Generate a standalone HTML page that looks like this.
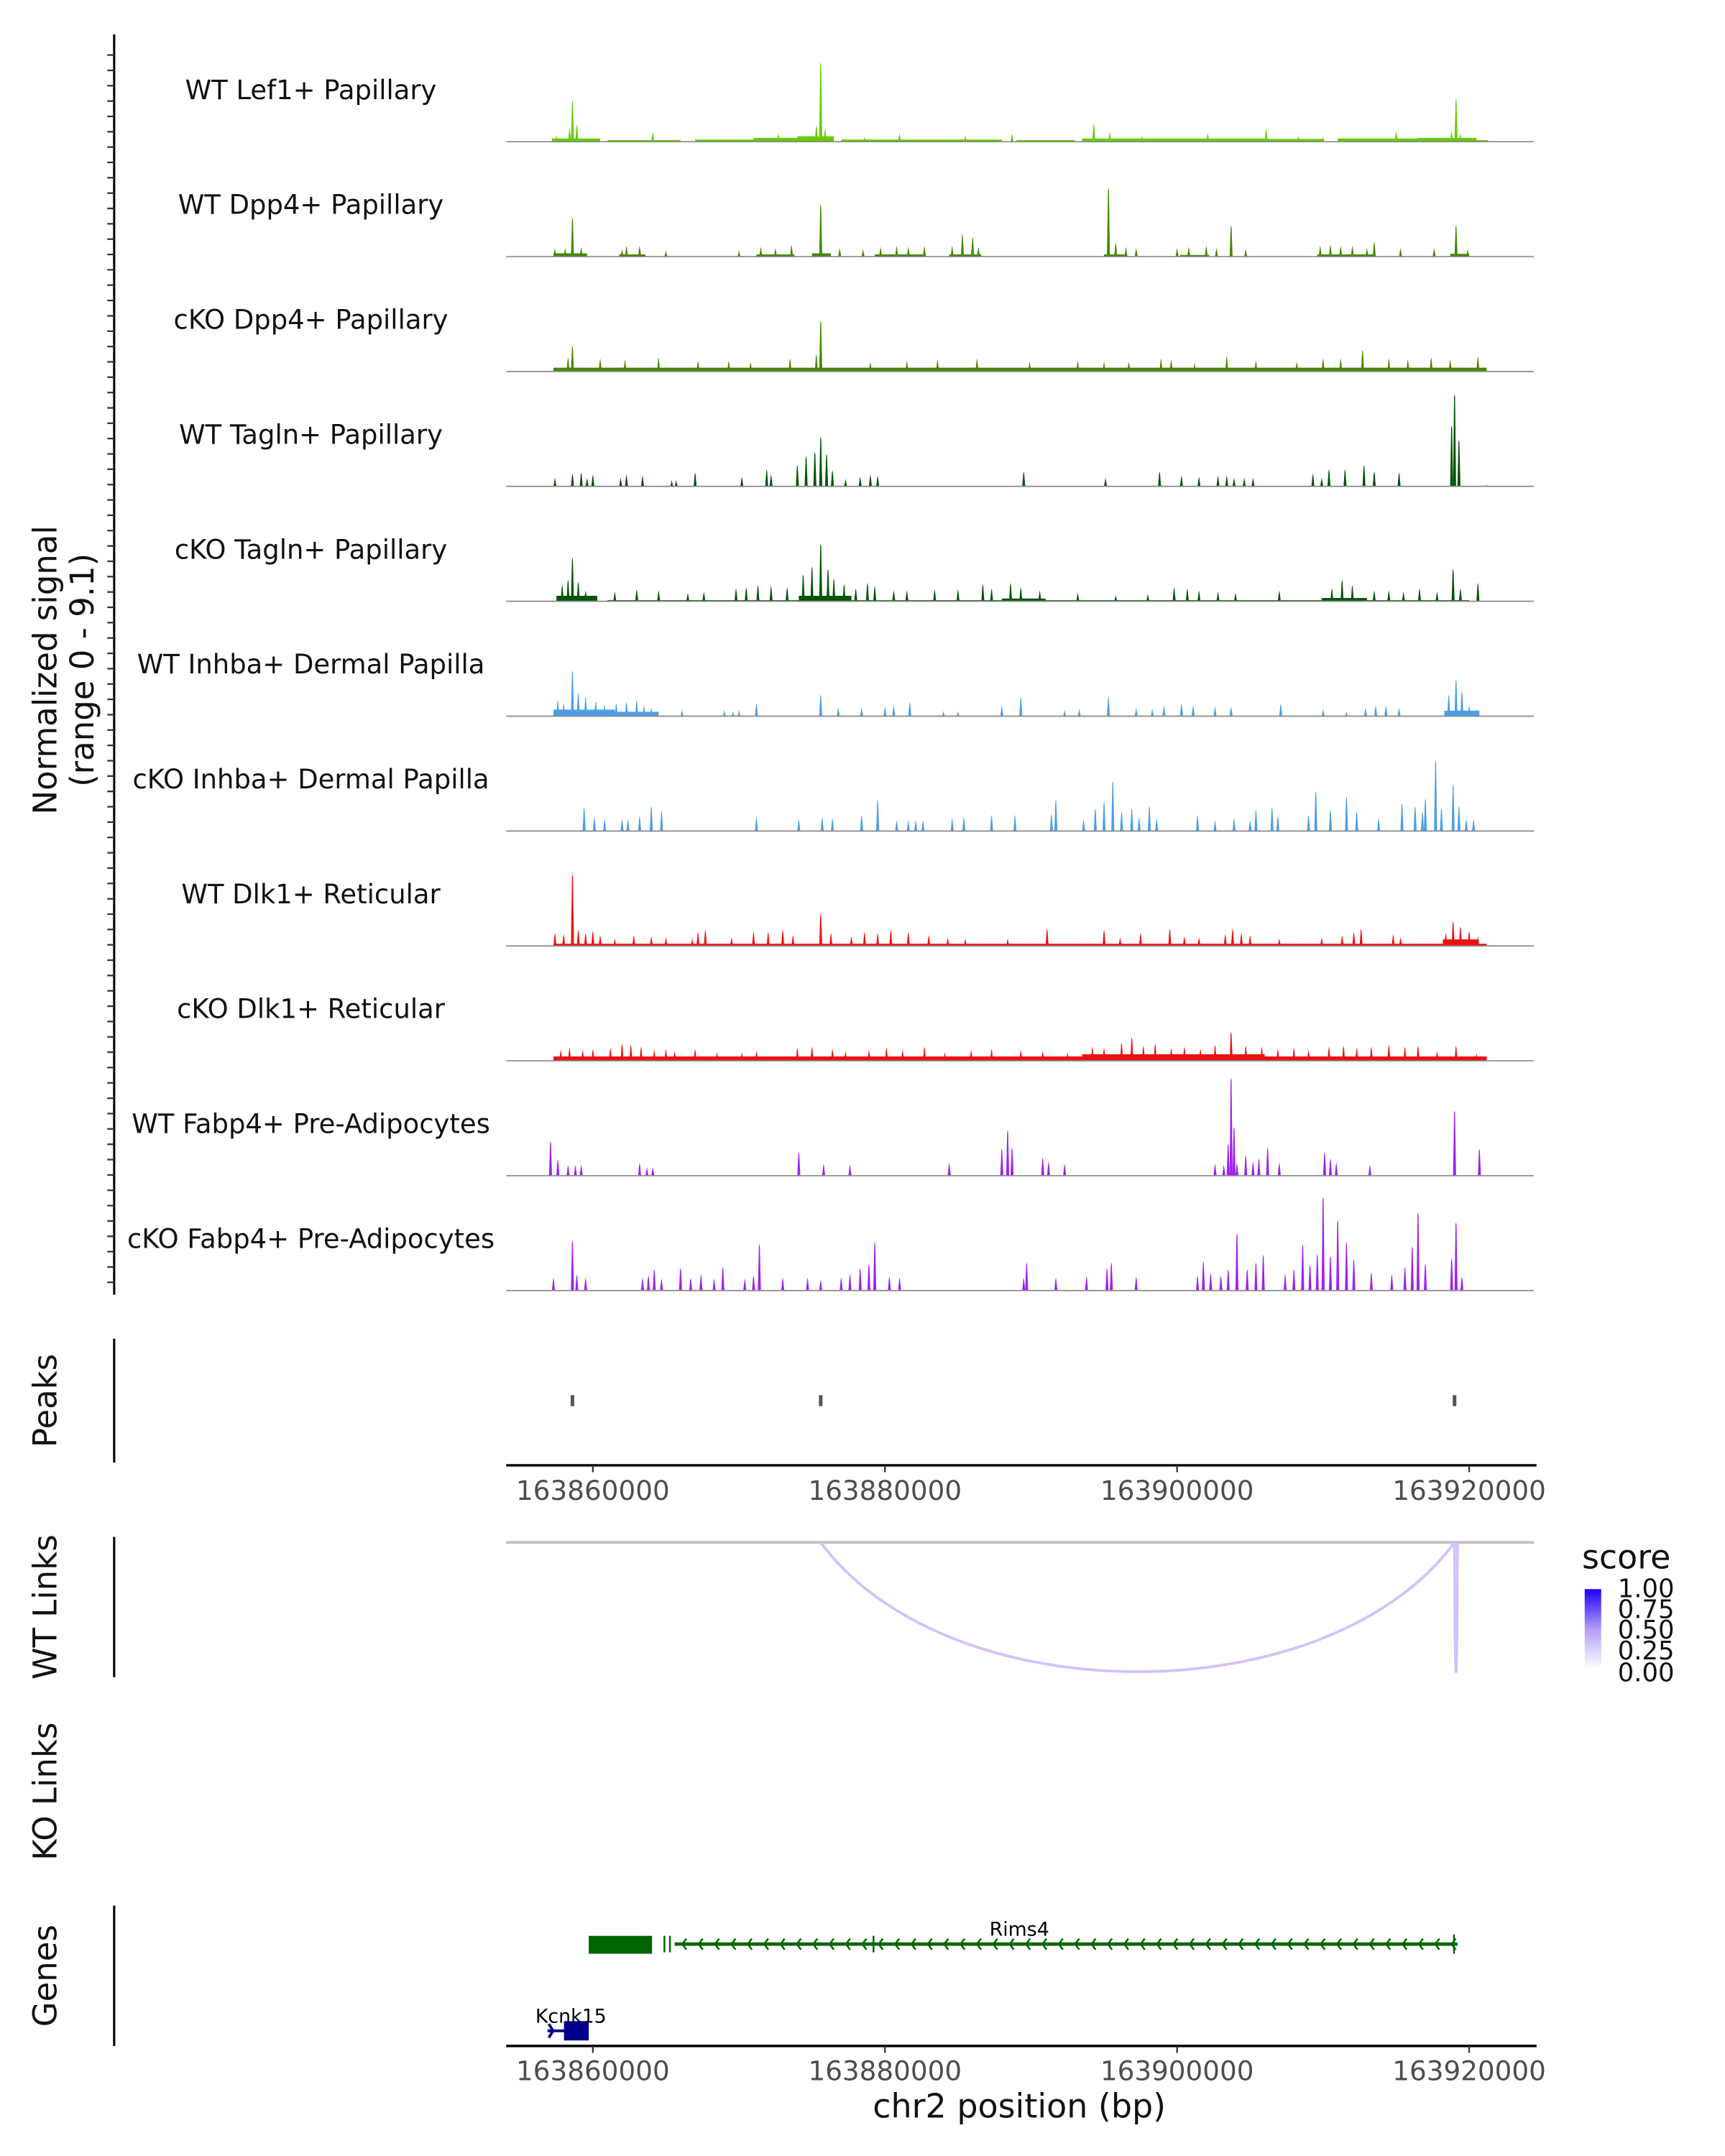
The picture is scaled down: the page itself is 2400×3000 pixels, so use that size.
<!DOCTYPE html>
<html><head><meta charset="utf-8"><style>
html,body{margin:0;padding:0;background:#fff;}
svg{display:block;font-family:"DejaVu Sans","Liberation Sans",sans-serif;}
</style></head><body>
<svg id="chart" width="2400" height="3000" viewBox="0 0 1254 1567" preserveAspectRatio="none" xmlns="http://www.w3.org/2000/svg">
<rect width="1254" height="1567" fill="#fff"/>
<g id="tracks"></g>
<line x1="83" y1="25" x2="83" y2="941" stroke="#000" stroke-width="1.6"/>
<g id="yticks"></g>
<text transform="translate(41,487) rotate(-90)" text-anchor="middle" font-size="23.5" fill="#111">Normalized signal</text>
<text transform="translate(68,487) rotate(-90)" text-anchor="middle" font-size="23.5" fill="#111">(range 0 - 9.1)</text>

<line x1="83" y1="973" x2="83" y2="1063" stroke="#000" stroke-width="1.6"/>
<text transform="translate(41,1018) rotate(-90)" text-anchor="middle" font-size="23.5" fill="#111">Peaks</text>
<g id="peaks"></g>
<g id="xaxis1"></g>

<line x1="83" y1="1117" x2="83" y2="1219" stroke="#000" stroke-width="1.6"/>
<text transform="translate(41,1168) rotate(-90)" text-anchor="middle" font-size="23.5" fill="#111">WT Links</text>
<g id="links"></g>
<text transform="translate(41,1302) rotate(-90)" text-anchor="middle" font-size="23.5" fill="#111">KO Links</text>

<g>
<defs><linearGradient id="sg" x1="0" y1="1" x2="0" y2="0"><stop offset="0" stop-color="#ffffff"/><stop offset="0.5" stop-color="#b49cf5"/><stop offset="1" stop-color="#1a00ff"/></linearGradient></defs>
<text x="1150" y="1140" font-size="24" fill="#111">score</text>
<rect x="1152" y="1155" width="12" height="58" fill="url(#sg)"/>
<g font-size="18.5" fill="#111">
<text x="1176" y="1161">1.00</text>
<text x="1176" y="1176">0.75</text>
<text x="1176" y="1191">0.50</text>
<text x="1176" y="1206">0.25</text>
<text x="1176" y="1222">0.00</text>
</g></g>

<line x1="83" y1="1385" x2="83" y2="1487" stroke="#000" stroke-width="1.6"/>
<text transform="translate(41,1436) rotate(-90)" text-anchor="middle" font-size="23.5" fill="#111">Genes</text>
<g id="genes"></g>
<g id="xaxis2"></g>
<text x="741" y="1539" text-anchor="middle" font-size="24" fill="#111">chr2 position (bp)</text>
</svg>
<script>
// positions in kb offset from 163850000
const trackNames = ["WT Lef1+ Papillary","WT Dpp4+ Papillary","cKO Dpp4+ Papillary","WT Tagln+ Papillary","cKO Tagln+ Papillary","WT Inhba+ Dermal Papilla","cKO Inhba+ Dermal Papilla","WT Dlk1+ Reticular","cKO Dlk1+ Reticular","WT Fabp4+ Pre-Adipocytes","cKO Fabp4+ Pre-Adipocytes"];
const trackColors = ["#66cc00","#448800","#448800","#005500","#005500","#4a9fe8","#4a9fe8","#ee1111","#ee1111","#a020f0","#a020f0"];
const xTicks = [163860000,163880000,163900000,163920000];
const peakRegions = [8.6,25.6,69.0];
const lefBand = [[7.2,10.5,0.3],[11,16,0.15],[17,21,0.2],[21,24,0.35],[24,26.5,0.5],[27,38,0.2],[39,43,0.15],[43.5,56,0.3],[56,60,0.25],[61,66.5,0.3],[66.5,70.5,0.35],[70.5,71.3,0.15]];
const lefPeaks = [[8.6,3.8],[8.4,1.2],[8.9,1.6],[7.5,0.6],[25.6,7.3],[25.3,1.5],[25.9,1.2],[69.1,4.0],[68.8,1.0],[69.4,0.8],[14.1,0.9],[22.7,0.8],[31.0,0.8],[38.7,0.8],[44.3,1.7],[45.4,0.9],[47.6,0.6],[52.1,0.8],[56.1,1.2],[58.3,0.6],[65.0,1.0],[60.0,0.5],[35.5,0.6],[28.6,0.5]];
const wtDppBand = [[7.3,9.6,0.3],[11.8,13.6,0.2],[21.2,23.8,0.2],[25.0,26.3,0.3],[29.3,32.8,0.2],[34.4,36.6,0.2],[45,46.4,0.2],[50.2,52.2,0.15],[59.6,63.6,0.2],[68.7,70,0.25]];
const wtDppPeaks = [[8.6,3.6],[7.4,0.8],[8.1,0.8],[9.2,0.9],[12.0,0.7],[12.3,1.0],[13.2,1.0],[15.0,0.6],[20.0,0.6],[21.5,0.9],[22.5,0.8],[23.6,1.1],[25.6,4.8],[26.9,0.8],[28.5,0.7],[29.7,0.9],[30.8,1.0],[31.6,0.9],[32.7,1.0],[34.6,1.0],[35.3,2.1],[36.0,1.8],[36.4,0.9],[45.3,6.3],[45.8,1.3],[46.5,0.9],[47.2,0.8],[50.0,0.8],[50.8,0.9],[52.0,1.0],[53.7,2.9],[52.7,0.8],[54.7,0.7],[59.8,1.0],[60.5,1.1],[61.2,1.0],[62.0,1.0],[63.0,0.8],[63.5,1.4],[65.3,0.8],[67.6,0.8],[69.1,2.9],[69.9,0.7]];
const koDppBand = [[7.3,71.2,0.35]];
const koDppPeaks = [[8.6,2.4],[8.3,1.3],[10.5,1.2],[12.2,1.1],[14.5,1.3],[17.2,1.0],[19.3,1.0],[20.8,0.9],[23.5,1.2],[25.6,4.7],[25.3,1.6],[29.0,0.9],[31.5,1.0],[33.6,1.1],[36.3,1.2],[39.9,0.9],[43.2,1.0],[45.0,0.9],[46.7,0.9],[48.9,1.2],[49.6,1.1],[51.2,0.8],[53.4,1.4],[55.4,1.0],[58.2,0.9],[60.0,1.2],[61.2,1.2],[62.7,2.0],[64.5,1.2],[65.8,1.1],[67.4,1.3],[68.7,1.1],[70.6,1.4]];
const wtTagBand = [];
const wtTagPeaks = [[7.4,0.8],[8.6,1.2],[9.2,1.3],[9.6,0.8],[10.0,1.1],[11.9,0.8],[12.3,1.1],[13.4,1.0],[15.4,0.6],[15.7,0.6],[17.0,1.3],[20.2,0.9],[21.9,1.6],[22.2,1.1],[24.0,2.0],[24.6,2.8],[25.2,3.2],[25.6,4.6],[26.0,3.0],[26.4,1.5],[27.3,0.7],[28.3,0.9],[29.0,1.1],[29.5,1.0],[39.5,1.4],[45.1,0.8],[48.8,1.4],[50.3,1.0],[51.5,0.9],[52.8,1.0],[53.4,1.0],[53.9,0.8],[54.6,0.8],[55.2,0.8],[59.3,1.2],[59.9,0.8],[60.4,1.6],[61.5,1.6],[62.8,2.0],[63.5,1.4],[65.2,1.3],[68.8,5.6],[69.0,8.5],[69.3,4.3],[71.2,0.2]];
const koTagBand = [[7.5,10.3,0.5],[24.1,27.7,0.5],[38.0,41.0,0.25],[59.9,63.0,0.3],[11,70,0.1]];
const koTagPeaks = [[7.9,1.5],[8.3,2.0],[8.6,4.0],[9.0,1.8],[9.5,1.0],[11.5,0.9],[13.0,1.1],[14.5,1.0],[16.5,0.8],[17.6,0.9],[19.8,1.2],[20.5,1.3],[21.3,1.5],[22.2,1.4],[23.3,1.3],[24.4,2.5],[25.0,3.2],[25.6,5.3],[26.1,3.0],[26.5,2.1],[27.2,1.6],[28.0,1.2],[28.8,1.7],[29.3,1.4],[30.6,1.0],[31.5,1.0],[33.4,1.1],[35.0,1.1],[36.7,1.6],[37.3,1.2],[38.6,1.7],[39.3,1.3],[40.6,1.0],[43.2,0.8],[45.8,0.6],[48.0,0.7],[49.8,1.3],[50.7,1.2],[51.5,1.0],[52.8,0.9],[54.0,0.8],[57.0,1.0],[60.6,1.2],[61.3,2.0],[62.0,1.5],[63.5,1.0],[64.5,1.0],[65.5,0.9],[66.6,1.2],[67.8,0.9],[68.9,3.0],[69.4,1.2],[70.6,1.7]];
const wtInhBand = [[7.3,11.5,0.6],[11.5,14.5,0.4],[68.3,70.7,0.5]];
const wtInhPeaks = [[7.6,1.5],[8.0,1.2],[8.6,4.2],[9.0,2.2],[9.5,1.8],[10.2,1.4],[10.8,1.1],[11.6,1.2],[12.3,1.3],[13.0,1.5],[13.5,1.0],[14.0,0.8],[16.1,0.6],[19.0,0.6],[19.6,0.5],[20.0,0.6],[21.2,1.2],[25.6,2.0],[26.8,0.8],[28.4,0.8],[30.0,0.9],[30.6,1.0],[31.7,1.3],[34.0,0.5],[35.0,0.5],[38.0,1.0],[39.3,1.8],[42.3,0.6],[43.3,0.7],[45.3,1.8],[47.2,0.8],[48.3,0.7],[49.1,1.0],[50.3,1.2],[51.1,1.0],[52.6,0.9],[53.7,0.9],[57.1,1.2],[60.0,0.7],[61.6,0.5],[62.9,0.8],[63.6,1.0],[64.3,1.0],[65.2,0.8],[68.6,2.0],[69.1,3.4],[69.5,2.3],[70.0,1.0],[70.5,0.7]];
const koInhBand = [];
const koInhPeaks = [[9.4,2.2],[10.1,1.3],[10.8,1.1],[12.0,1.1],[12.4,1.1],[13.2,1.4],[14.0,2.3],[14.7,1.9],[21.2,1.3],[24.1,1.1],[25.7,1.3],[26.4,1.2],[28.4,1.5],[29.5,2.9],[30.8,1.0],[31.6,1.0],[32.1,1.0],[32.6,1.0],[34.6,1.2],[35.4,1.3],[37.3,1.5],[38.9,1.5],[41.4,1.6],[41.7,2.9],[43.6,1.1],[44.4,2.1],[45.0,2.7],[45.6,4.6],[46.2,1.8],[46.9,2.1],[47.4,1.3],[48.1,2.3],[48.6,1.2],[51.4,1.5],[52.6,1.0],[53.9,1.2],[55.0,1.0],[55.4,2.0],[56.5,2.2],[56.9,1.4],[59.0,1.5],[59.5,3.7],[60.5,2.0],[61.6,3.2],[62.3,1.8],[63.8,1.2],[65.4,2.6],[66.3,2.3],[66.8,1.8],[67.0,3.0],[67.7,6.5],[68.1,2.1],[68.9,4.3],[69.3,2.3],[69.8,1.1],[70.3,1.1]];
const wtDlkBand = [[7.3,71.2,0.2],[68.2,70.6,0.6]];
const wtDlkPeaks = [[7.4,1.2],[8.0,1.1],[8.6,6.6],[9.0,1.5],[9.5,1.2],[10.0,1.4],[10.5,1.0],[11.5,0.7],[12.8,1.0],[14.0,0.9],[15.0,0.8],[16.8,0.7],[17.2,1.3],[17.7,1.5],[19.5,0.8],[21.0,1.3],[22.0,1.3],[23.0,1.5],[23.7,1.0],[25.6,3.0],[26.3,1.2],[27.7,0.9],[28.6,1.3],[29.5,1.2],[30.4,1.5],[31.6,1.3],[33.0,1.0],[34.3,0.8],[35.5,0.7],[38.4,0.7],[41.1,1.6],[45.0,1.5],[46.1,0.8],[47.5,1.2],[49.5,1.6],[50.5,0.9],[51.5,0.8],[53.3,1.1],[53.8,1.6],[54.4,1.2],[55.0,1.0],[57.0,0.7],[59.9,0.8],[61.3,1.0],[62.1,1.3],[62.6,1.6],[64.8,1.1],[65.3,0.8],[68.4,1.2],[68.9,2.3],[69.4,1.8],[70.0,1.4],[70.6,0.9]];
const koDlkBand = [[7.3,71.2,0.4],[43.5,56,0.6]];
const koDlkPeaks = [[7.8,1.0],[8.4,1.2],[9.3,1.0],[10.0,1.1],[11.2,1.2],[12.0,1.6],[12.6,1.5],[13.3,1.3],[14.2,1.0],[15.0,1.1],[15.6,0.9],[17.0,1.1],[18.5,0.8],[20.2,0.8],[21.2,0.9],[24.0,1.2],[25.0,1.3],[26.4,1.1],[27.3,0.9],[28.9,1.0],[30.1,1.2],[31.2,1.0],[32.7,1.3],[34.1,0.8],[35.9,1.0],[37.3,1.1],[39.3,1.0],[40.8,0.9],[42.5,0.8],[44.2,1.3],[45.0,1.2],[46.2,1.7],[46.9,2.2],[47.7,1.4],[48.5,1.6],[49.6,1.2],[50.5,1.3],[51.6,1.1],[52.6,1.5],[53.7,2.7],[54.7,1.4],[55.8,1.3],[56.9,1.1],[58.0,1.2],[59.0,1.0],[60.4,1.3],[61.4,1.4],[62.3,1.2],[63.3,1.3],[64.5,1.5],[65.6,1.3],[66.5,1.4],[67.8,0.9],[69.1,1.4],[70.5,0.7]];
const wtFabBand = [];
const wtFabPeaks = [[7.1,3.2],[7.6,1.5],[8.3,1.0],[8.8,1.0],[9.2,1.0],[13.2,1.2],[13.7,0.8],[14.1,0.8],[24.1,2.2],[25.8,1.1],[27.6,1.0],[34.4,1.2],[38.0,2.5],[38.4,4.2],[38.7,2.6],[40.8,1.7],[41.2,1.3],[42.3,1.1],[52.6,1.1],[53.2,1.0],[54.1,1.2],[54.7,1.9],[55.2,1.3],[55.6,1.6],[56.2,2.6],[53.7,9.0],[53.9,4.5],[53.5,3.0],[57.0,1.2],[60.1,2.2],[60.5,1.6],[60.9,1.2],[63.2,1.0],[69.0,6.0],[70.7,2.5]];
const koFabBand = [];
const koFabPeaks = [[7.3,1.2],[8.6,4.6],[8.9,1.5],[9.5,1.2],[13.4,1.2],[13.8,1.4],[14.2,2.0],[14.7,1.1],[16.0,2.1],[16.7,1.2],[17.4,1.5],[18.3,1.1],[18.9,2.2],[20.4,1.1],[21.0,1.4],[21.4,4.3],[23.0,1.2],[24.7,1.2],[25.6,1.0],[27.0,1.2],[27.6,1.5],[28.3,2.1],[28.9,2.5],[29.3,4.5],[30.3,1.3],[31.0,1.2],[39.5,1.2],[39.7,2.6],[41.7,1.2],[43.8,1.3],[45.2,2.1],[45.5,2.6],[47.2,1.3],[51.4,1.4],[51.8,2.7],[52.3,1.6],[53.0,1.4],[53.5,2.0],[54.1,5.3],[54.8,2.0],[55.4,2.6],[55.9,3.3],[57.4,1.5],[58.0,2.0],[58.6,4.3],[59.1,2.4],[59.6,3.4],[60.0,8.6],[60.5,3.2],[61.0,6.5],[61.6,4.5],[62.1,2.9],[63.3,1.7],[64.7,1.5],[65.6,2.2],[66.1,4.1],[66.5,7.2],[67.0,2.5],[68.8,3.0],[69.1,6.3],[69.5,1.3]];
const trackBands = [lefBand,wtDppBand,koDppBand,wtTagBand,koTagBand,wtInhBand,koInhBand,wtDlkBand,koDlkBand,wtFabBand,koFabBand];
const trackPeaks = [lefPeaks,wtDppPeaks,koDppPeaks,wtTagPeaks,koTagPeaks,wtInhPeaks,koInhPeaks,wtDlkPeaks,koDlkPeaks,wtFabPeaks,koFabPeaks];
const linkStarts = [25.6,69.0];
const linkEnds = [69.0,69.2];
const linkScores = [0.3,0.3];

const NS="http://www.w3.org/2000/svg";
function mk(tag,attrs,parent){const e=document.createElementNS(NS,tag);for(const k in attrs)e.setAttribute(k,attrs[k]);parent.appendChild(e);return e;}
const X0=368,X1=1115;
function xs(kb){return 431+(kb-10)*10.617;}
function xbp(bp){return xs((bp-163850000)/1000);}
const YMAX=9.1, TH=72;
function baseY(i){return 103+i*83.5;}
function ys(i,v){return baseY(i)-v/YMAX*TH;}

const tg=document.getElementById('tracks');
for(let i=0;i<trackNames.length;i++){
  const g=mk('g',{},tg);
  
  
  const lbl=mk('text',{x:226,y:baseY(i)-31,'text-anchor':'middle','font-size':19.3,fill:'#111'},g);
  lbl.textContent=trackNames[i];
  
  
  trackBands[i].forEach(b=>{
    const r=mk('rect',{x:xs(b[0]),y:ys(i,b[2]),width:xs(b[1])-xs(b[0]),height:baseY(i)-ys(i,b[2]),fill:trackColors[i]},g);
    
    
  });
  trackPeaks[i].forEach(p=>{
    const x=xs(p[0]),y=ys(i,p[1]),b=baseY(i);
    const pg=mk('polygon',{points:`${x-1.1},${b} ${x-0.35},${y+2} ${x},${y} ${x+0.35},${y+2} ${x+1.1},${b}`,fill:trackColors[i]},g);
    
    
  });
  const bl=mk('line',{x1:X0,x2:X1,y1:baseY(i),y2:baseY(i),stroke:'#888','stroke-width':0.9},g);
  
  
}
const yt=document.getElementById('yticks');
for(let y=40;y<=940;y+=11.15){
  const t=mk('line',{x1:78,x2:83,y1:y,y2:y,stroke:'#333','stroke-width':1.2},yt);
  
  
}
const pk=document.getElementById('peaks');
peakRegions.forEach(p=>{
  const r=mk('rect',{x:xs(p)-1.3,y:1014,width:2.6,height:8,fill:'#555'},pk);
  
  
});
function xaxis(id,y){
  const g=document.getElementById(id);
  const l=mk('line',{x1:X0,x2:X1+2,y1:y,y2:y,stroke:'#000','stroke-width':1.8},g);
  
  
  xTicks.forEach(t=>{
    const x=xbp(t);
    const tk=mk('line',{x1:x,x2:x,y1:y,y2:y+5,stroke:'#333','stroke-width':1.2},g);
    
    
    const tx=mk('text',{x:x,y:y+25,'text-anchor':'middle','font-size':19.5,fill:'#4d4d4d'},g);
    tx.textContent=String(t);
    
    
  });
}
xaxis('xaxis1',1065);
xaxis('xaxis2',1487);

const lk=document.getElementById('links');
const gl=mk('line',{x1:X0,x2:X1,y1:1121,y2:1121,stroke:'#bfbfbf','stroke-width':2},lk);


for(let i=0;i<linkStarts.length;i++){
  const a=xs(linkStarts[i]),b=xs(linkEnds[i]);
  const c=1121+(1215-1121)/0.75;
  const p=mk('path',{d:`M${a},1121 C${a+(b-a)*0.2},${c} ${a+(b-a)*0.8},${c} ${b},1121`,fill:'none',stroke:'#d4c0fa','stroke-width':2},lk);
  
  
}

const gn=document.getElementById('genes');
const rl=mk('line',{x1:xs(15.6),x2:xs(69.2),y1:1413,y2:1413,stroke:'#006400','stroke-width':2.5},gn);


const rb=mk('rect',{x:428,y:1407,width:46,height:13,fill:'#006400'},gn);


let chev='';
for(let x=496;x<1058;x+=11.9){chev+=`M${x+3},1409 L${x},1413 L${x+3},1417 `;}
chev+='M483,1407 L483,1419 M487,1407 L487,1419 M635,1407 L635,1419 M1057,1406 L1057,1420';
const cv=mk('path',{d:chev,fill:'none',stroke:'#006400','stroke-width':1.3},gn);


const rt=mk('text',{x:741,y:1407,'text-anchor':'middle','font-size':14,fill:'#000'},gn);
rt.textContent='Rims4';


const kl=mk('path',{d:'M398,1476 L412,1476 M399,1471 L402,1476 L399,1481',fill:'none',stroke:'#00008b','stroke-width':2},gn);


const kb=mk('rect',{x:410,y:1469,width:18,height:14,fill:'#00008b'},gn);


const kt=mk('text',{x:415,y:1470,'text-anchor':'middle','font-size':14,fill:'#000'},gn);
kt.textContent='Kcnk15';


</script>
</body></html>
